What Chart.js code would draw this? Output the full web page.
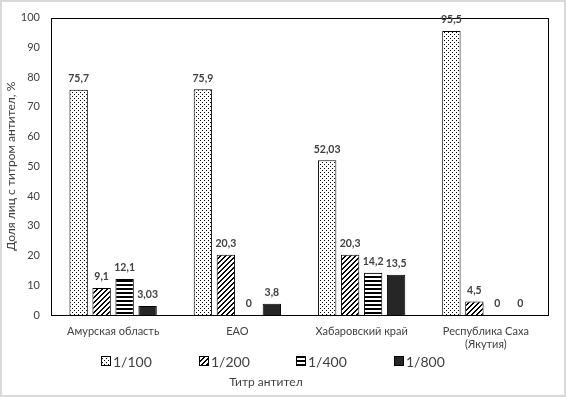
<!DOCTYPE html>
<html><head><meta charset="utf-8">
<script src="https://cdn.jsdelivr.net/npm/chart.js"></script>
<style>html,body{margin:0;padding:0;background:#fff}#wrap{width:566px;height:397px;position:relative}canvas{display:block}</style>
</head><body><div id="wrap"><canvas id="c" width="566" height="397"></canvas></div>
<script>
const categories = ["Амурская область", "ЕАО", "Хабаровский край", ["Республика Саха", "(Якутия)"]];
const seriesNames = ["1/100", "1/200", "1/400", "1/800"];
const titer100 = [75.7, 75.9, 52.03, 95.5];
const titer200 = [9.1, 20.3, 20.3, 4.5];
const titer400 = [12.1, 0, 14.2, 0];
const titer800 = [3.03, 3.8, 13.5, 0];
const yTickValues = [0, 10, 20, 30, 40, 50, 60, 70, 80, 90, 100];
const yTitle = "Доля лиц с титром антител, %";
const xTitle = "Титр антител";

const FONT = "Lato, 'Noto Sans', sans-serif";
const TEXT = "#404040";

function makePattern(kind) {
  const c = document.createElement('canvas');
  const n = kind === 'diag' ? 5 : 4;
  c.width = n; c.height = n;
  const g = c.getContext('2d');
  g.fillStyle = '#fff'; g.fillRect(0, 0, n, n);
  g.fillStyle = '#000';
  for (let x = 0; x < n; x++) for (let y = 0; y < n; y++) {
    let on = false;
    if (kind === 'dots') on = (x === 0 && y === 0) || (x === 2 && y === 2);
    if (kind === 'diag') on = ((x + y) % n) < 2;
    if (kind === 'horiz') on = y < 2;
    if (on) g.fillRect(x, y, 1, 1);
  }
  return document.getElementById('c').getContext('2d').createPattern(c, 'repeat');
}
const fills = [makePattern('dots'), makePattern('diag'), makePattern('horiz'), '#262626'];
const seriesData = [titer100, titer200, titer400, titer800];

const datasets = seriesNames.map((name, i) => ({
  label: name,
  data: seriesData[i],
  backgroundColor: fills[i],
  borderColor: '#000',
  borderWidth: 1,
  categoryPercentage: 0.74,
  barPercentage: 0.8
}));

const fmt = v => String(v).replace('.', ',');

const decor = {
  id: 'decor',
  beforeDraw(chart) {
    const ctx = chart.ctx;
    ctx.save();
    ctx.fillStyle = '#fff';
    ctx.fillRect(0, 0, chart.width, chart.height);
    ctx.restore();
  },
  afterDatasetsDraw(chart) {
    const ctx = chart.ctx;
    const a = chart.chartArea;
    ctx.save();
    ctx.strokeStyle = '#000';
    ctx.lineWidth = 1;
    ctx.strokeRect(Math.round(a.left) + 0.5, Math.round(a.top) + 0.5, Math.round(a.right - a.left), Math.round(a.bottom - a.top));
    ctx.font = "bold 10.5px " + FONT;
    ctx.fillStyle = TEXT;
    ctx.textAlign = 'center';
    ctx.textBaseline = 'middle';
    chart.data.datasets.forEach((ds, i) => {
      chart.getDatasetMeta(i).data.forEach((bar, j) => {
        ctx.fillText(fmt(ds.data[j]), bar.x, bar.y - 11);
      });
    });
    // legend
    const ly = 361;
    const startX = 101, step = 97.5;
    ctx.font = "14px " + FONT;
    ctx.textAlign = 'left';
    chart.data.datasets.forEach((ds, i) => {
      const bx = Math.round(startX + i * step);
      ctx.fillStyle = ds.backgroundColor;
      ctx.fillRect(bx, ly - 5, 10, 10);
      ctx.strokeStyle = '#000';
      ctx.strokeRect(bx + 0.5, ly - 4.5, 9, 9);
      ctx.fillStyle = TEXT;
      ctx.fillText(ds.label, bx + 12, ly + 1);
    });
    ctx.font = "12px " + FONT;
    ctx.textAlign = 'center';
    ctx.fillText(xTitle, 266, 382);
    // outer border
    ctx.strokeStyle = '#d9d9d9';
    ctx.lineWidth = 2;
    ctx.strokeRect(1, 1, chart.width - 2, chart.height - 2);
    ctx.restore();
  }
};

new Chart(document.getElementById('c'), {
  type: 'bar',
  data: { labels: categories, datasets },
  options: {
    responsive: false,
    devicePixelRatio: 1,
    animation: false,
    layout: { padding: { top: 10, right: 18, bottom: 0, left: 0 } },
    plugins: { legend: { display: false }, tooltip: { enabled: false } },
    scales: {
      x: {
        grid: { display: false, drawTicks: false },
        border: { display: false },
        ticks: { font: { family: FONT, size: 11 }, color: TEXT, padding: 10, maxRotation: 0, autoSkip: false },
        afterFit: s => { s.height = 82; }
      },
      y: {
        min: 0, max: 100,
        afterBuildTicks: s => { s.ticks = yTickValues.map(v => ({ value: v })); },
        grid: { display: false, drawTicks: false },
        border: { display: false },
        ticks: { font: { family: FONT, size: 11 }, color: TEXT, padding: 11 },
        title: { display: true, text: yTitle, font: { family: FONT, size: 12 }, color: TEXT, padding: { top: 4, bottom: 0 } },
        afterFit: s => { s.width = 51; }
      }
    }
  },
  plugins: [decor]
});
</script></body></html>
